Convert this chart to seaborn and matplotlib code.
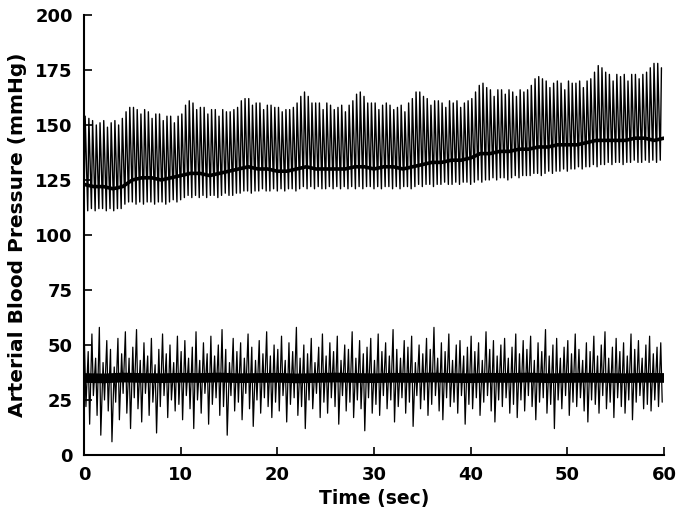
import numpy as np
import pandas as pd
import matplotlib
matplotlib.use("Agg")
import matplotlib.pyplot as plt
import seaborn as sns

# ---------------- data ----------------
# upper trace: per-beat systolic peaks and diastolic troughs (mmHg)
top_peak = [
    154, 153, 152, 150, 151, 152, 149, 151, 152, 150, 153, 156, 158,
    158, 157, 155, 157, 156, 153, 155, 155, 152, 154, 154, 151, 154,
    155, 159, 161, 160, 157, 158, 158, 155, 157, 157, 154, 157, 156,
    156, 157, 158, 161, 162, 162, 159, 160, 160, 157, 159, 159, 158,
    158, 156, 157, 157, 158, 160, 163, 165, 163, 160, 160, 160, 157,
    160, 159, 157, 158, 159, 156, 159, 161, 164, 165, 163, 160, 160,
    160, 157, 159, 160, 159, 157, 158, 159, 156, 160, 162, 165, 165,
    163, 162, 159, 161, 161, 160, 158, 161, 160, 161, 158, 160, 161,
    162, 165, 168, 169, 167, 166, 163, 166, 166, 164, 166, 165, 163,
    166, 165, 166, 168, 171, 172, 171, 170, 167, 169, 170, 169, 166,
    170, 169, 169, 170, 167, 170, 171, 174, 177, 176, 174, 173, 170,
    173, 172, 173, 170, 173, 173, 171, 173, 174, 176, 178, 178, 176,
]
top_trough = [
    112, 111, 112, 111, 112, 112, 111, 112, 111, 112, 112,
    114, 115, 115, 114, 115, 114, 115, 115, 114, 115, 115, 114, 115, 116, 115, 116,
    117, 118, 117, 118, 117, 118, 117, 118, 118, 117, 118, 119, 118, 118, 119, 119,
    120, 120, 119, 120, 120, 121, 120, 120, 121, 120, 121, 120, 121, 121, 120, 121,
    122, 121, 122, 121, 122, 121, 121, 122, 121, 122, 121, 122, 121, 122, 121,
    122, 121, 122, 122, 121, 122, 121, 122, 122, 121, 122, 121, 122, 122, 121, 122,
    123, 122, 123, 123, 122, 123, 123, 124, 123, 123, 124, 123, 124, 124, 123,
    124, 125, 124, 125, 125, 126, 125, 126, 126, 125, 126, 127, 126, 127, 127, 127,
    128, 128, 127, 128, 129, 128, 129, 129, 130, 129, 130, 130, 131, 130, 131, 131,
    132, 131, 132, 132, 133, 132, 133, 133, 132, 133, 133, 134, 133, 133, 134, 133, 134, 133, 134,
]
# upper trace: dark mean band, one value per second (0..60 s)
mean_time = list(range(61))
top_mean = [
    123, 122, 122, 121, 122,
    125, 126, 126, 125, 126, 127,
    128, 128, 127, 128, 129,
    130, 131, 130, 130, 129,
    129, 130, 131, 130, 130,
    130, 130, 131, 131, 130,
    131, 131, 130, 131, 132,
    133, 133, 134, 134, 135,
    137, 137, 138, 138, 139,
    139, 140, 140, 141, 141,
    141, 142, 143, 143, 143,
    143, 144, 144, 143, 144,
]
# lower trace: per-beat spike highs and lows (mmHg)
bot_high = [
    50, 47, 55, 44, 58, 42, 52, 48, 40, 53, 46, 56, 44,
    49, 57, 43, 51, 45, 53, 41, 48, 55, 46, 50, 42, 54,
    47, 52, 44, 49, 56, 43, 51, 46, 54, 45, 50, 57, 48,
    42, 53, 47, 51, 44, 55, 49, 43, 52, 46, 56, 45, 50,
    48, 54, 43, 51, 47, 58, 44, 50, 46, 53, 42, 49, 55,
    45, 51, 47, 54, 43, 50, 48, 56, 44, 52, 46, 49, 53,
    43, 55, 47, 51, 45, 57, 48, 44, 52, 49, 54, 42, 50,
    46, 53, 48, 58, 44, 51, 47, 55, 43, 50, 52, 45, 49,
    54, 47, 51, 43, 56, 48, 52, 45, 50, 53, 44, 49, 55,
    46, 52, 48, 54, 43, 51, 47, 57, 45, 50, 53, 44, 49,
    52, 46, 55, 48, 43, 51, 47, 54, 45, 50, 56, 44, 49,
    53, 47, 51, 45, 55, 48, 52, 44, 50, 54, 46, 49, 51,
]
bot_low = [
    22, 14, 27, 18, 9, 25, 20, 6, 24, 16, 28, 19, 12,
    26, 21, 15, 28, 18, 24, 10, 22, 27, 17, 25, 20, 23,
    16, 27, 21, 12, 25, 19, 28, 14, 23, 26, 18, 22, 9,
    27, 20, 24, 16, 28, 21, 13, 25, 19, 26, 22, 17, 24,
    20, 27, 15, 23, 26, 18, 22, 12, 25, 21, 28, 17, 24,
    19, 26, 22, 14, 27, 20, 24, 17, 25, 21, 11, 26, 19,
    23, 18, 27, 21, 25, 15, 22, 26, 19, 24, 13, 27, 21,
    25, 18, 23, 27, 20, 16, 26, 22, 24, 19, 27, 14, 23,
    21, 26, 18, 24, 27, 20, 15, 25, 22, 26, 19, 23, 17,
    25, 20, 27, 22, 16, 24, 26, 19, 23, 12, 25, 21, 27,
    18, 24, 22, 26, 20, 15, 25, 23, 19, 27, 21, 24, 17,
    26, 22, 19, 25, 16, 24, 27, 21, 23, 20, 25, 22, 24,
]
# lower trace: dark baseline band, one value every 2 s
band_time = list(range(0, 61, 2))
bot_mean = [
    35.0, 34.8, 35.2, 35.0, 34.9, 35.1, 35.0, 35.2, 34.9, 35.0, 35.1,
    34.8, 35.0, 35.2, 35.0, 34.9, 35.1, 35.0, 35.2, 35.0, 34.9, 35.1,
    35.0, 35.2, 34.9, 35.0, 35.1, 35.0, 34.9, 35.1, 35.0,
]
x_ticks = [0, 10, 20, 30, 40, 50, 60]
y_ticks = [0, 25, 50, 75, 100, 125, 150, 175, 200]

# ---------------- figure ----------------
sns.set_style("ticks")
plt.rcParams["font.family"] = ["DejaVu Sans"]
plt.rcParams["font.weight"] = "bold"
plt.rcParams["text.color"] = "black"
plt.rcParams["axes.labelcolor"] = "black"

fig = plt.figure(figsize=(6.79, 5.22), dpi=100)
ax = fig.add_axes([0.1237, 0.1284, 0.8542, 0.8429])

beat_period = 60.0 / 156
t_beat = np.arange(len(top_peak)) * beat_period

top_df = pd.DataFrame({
    "t": np.column_stack([t_beat, t_beat + 0.12]).ravel(),
    "p": np.column_stack([top_trough, top_peak]).ravel(),
})
bot_df = pd.DataFrame({
    "t": np.column_stack([t_beat + 0.05, t_beat + 0.2]).ravel(),
    "p": np.column_stack([bot_high, bot_low]).ravel(),
})

sns.lineplot(data=top_df, x="t", y="p", sort=False, estimator=None,
             color="black", lw=1.0, ax=ax)
sns.lineplot(x=mean_time, y=top_mean, sort=False, estimator=None,
             color="black", lw=2.6, ax=ax)
sns.lineplot(data=bot_df, x="t", y="p", sort=False, estimator=None,
             color="black", lw=0.9, ax=ax)
sns.lineplot(x=band_time, y=bot_mean, sort=False, estimator=None,
             color="black", lw=7.0, ax=ax)

ax.set_xlim(0, 60)
ax.set_ylim(0, 200)
ax.set_xticks(x_ticks)
ax.set_yticks(y_ticks)
ax.tick_params(direction="in", length=6, width=1.2, labelsize=13, pad=8,
               color="black", labelcolor="black")
for lab in ax.get_xticklabels() + ax.get_yticklabels():
    lab.set_fontweight("bold")
for s in ["top", "right"]:
    ax.spines[s].set_visible(False)
for s in ["left", "bottom"]:
    ax.spines[s].set_linewidth(1.5)
    ax.spines[s].set_color("black")

ax.set_xlabel("Time (sec)", fontsize=13.5, fontweight="bold", color="black")
ax.set_ylabel("Arterial Blood Pressure (mmHg)", fontsize=14.5,
              fontweight="bold", color="black")
ax.xaxis.set_label_coords(0.5, -0.078)
ax.yaxis.set_label_coords(-0.098, 0.5)

fig.savefig("out.png", dpi=100)
